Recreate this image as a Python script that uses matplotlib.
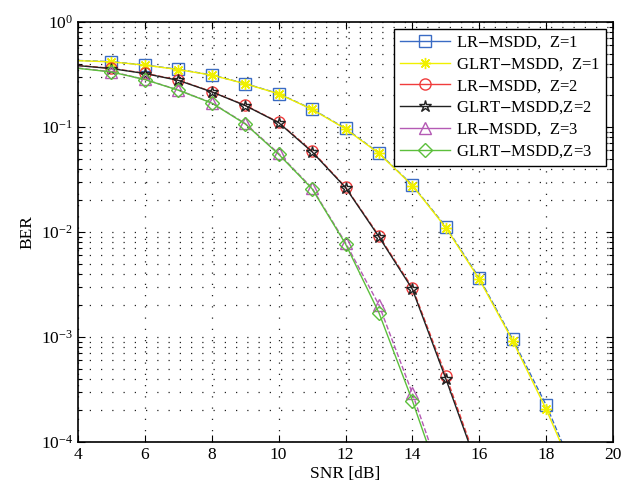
import numpy as np
import matplotlib
matplotlib.use('Agg')
import matplotlib.pyplot as plt
from matplotlib.ticker import LogLocator, NullFormatter

plt.rcParams['font.family'] = ['Liberation Serif', 'DejaVu Serif']
plt.rcParams['mathtext.fontset'] = 'stix'

# SNR points (dB) and simulated BER for each detector / Z
# (first point at 4 dB is drawn without a marker)
snr = [4, 5, 6, 7, 8, 9, 10, 11, 12, 13, 14, 15, 16, 17, 18, 19]
lr_z1 = [0.43, 0.419, 0.389, 0.354, 0.313, 0.259, 0.208, 0.148, 0.097, 0.0565, 0.028,
         0.0112, 0.00365, 0.00095, 0.000225, 4e-5]
glrt_z1 = [0.428, 0.417, 0.388, 0.352, 0.312, 0.258, 0.207, 0.147, 0.096, 0.0560, 0.0277,
           0.0110, 0.00355, 0.00092, 0.000205, 3.8e-5]

snr_z2 = [4, 5, 6, 7, 8, 9, 10, 11, 12, 13, 14, 15, 16]
lr_z2 = [0.386, 0.362, 0.325, 0.280, 0.217, 0.161, 0.111, 0.059, 0.0268, 0.0092, 0.00295,
         0.00043, 5.5e-5]
glrt_z2 = [0.384, 0.360, 0.323, 0.278, 0.216, 0.160, 0.110, 0.058, 0.0265, 0.0090, 0.00285,
           0.00040, 5.2e-5]

snr_z3 = [4, 5, 6, 7, 8, 9, 10, 11, 12, 13, 14, 15]
lr_z3 = [0.364, 0.336, 0.284, 0.225, 0.170, 0.108, 0.056, 0.0262, 0.0079, 0.00202,
         0.00029, 3.5e-5]
glrt_z3 = [0.362, 0.334, 0.283, 0.224, 0.169, 0.107, 0.055, 0.0258, 0.0077, 0.0017,
           0.000247, 3e-5]

fig = plt.figure(figsize=(6.23, 4.95), dpi=100)
ax = fig.add_axes([0.1252, 0.107, 0.8588, 0.8486])

ms = 8
mk = dict(markevery=(1, 1), mfc='none', mew=1, lw=1)
ax.semilogy(snr, lr_z1, '--', color='#3a6bc4', marker='s', ms=ms,
            mec='#3a6bc4', label='LR$-$MSDD,  Z=1', **mk)
ax.semilogy(snr, glrt_z1, '-', color='#f0f000', marker=(8, 2, 0), ms=ms,
            mec='#f0f000', label='GLRT$-$MSDD,  Z=1', **mk)
ax.semilogy(snr_z2, lr_z2, '--', color='#f03c3c', marker='o', ms=ms,
            mec='#f03c3c', label='LR$-$MSDD,  Z=2', **mk)
ax.semilogy(snr_z2, glrt_z2, '-', color='#222222', marker='*', ms=ms + 1,
            mec='#222222', label='GLRT$-$MSDD,Z=2', **mk)
ax.semilogy(snr_z3, lr_z3, '--', color='#b45ab4', marker='^', ms=ms,
            mec='#b45ab4', label='LR$-$MSDD,  Z=3', **mk)
ax.semilogy(snr_z3, glrt_z3, '-', color='#5cbf3c', marker='D', ms=ms - 1,
            mec='#5cbf3c', label='GLRT$-$MSDD,Z=3', **mk)

ax.set_xlim(4, 20)
ax.set_ylim(1e-4, 1)
ax.set_xticks(np.arange(4, 21, 2))
ax.yaxis.set_major_locator(LogLocator(base=10, numticks=10))
ax.yaxis.set_minor_locator(LogLocator(base=10, subs=np.arange(2, 10), numticks=10))
ax.yaxis.set_minor_formatter(NullFormatter())

ax.grid(True, which='major', axis='both', linestyle=(0, (1, 8)), color='#222222', lw=0.9)
ax.grid(True, which='minor', axis='y', linestyle=(0, (1, 8)), color='#222222', lw=0.9)

ax.tick_params(which='both', direction='in', top=True, right=True, labelsize=12.5)
ax.tick_params(which='major', length=5, width=0.8)
ax.tick_params(which='minor', length=3, width=0.8)
for sp in ax.spines.values():
    sp.set_linewidth(1.2)

ax.set_xlabel('SNR [dB]', fontsize=12.5, labelpad=2)
ax.set_ylabel('BER', fontsize=12.5, labelpad=4)

leg = ax.legend(loc='upper right', fontsize=12, frameon=True, fancybox=False,
                edgecolor='black', framealpha=1, borderaxespad=0.4,
                handlelength=3.0, labelspacing=0.3, borderpad=0.35,
                handletextpad=0.4)
leg.get_frame().set_linewidth(1.0)
for line in leg.get_lines():
    line.set_linestyle('-')

fig.savefig('out.png', dpi=100)
